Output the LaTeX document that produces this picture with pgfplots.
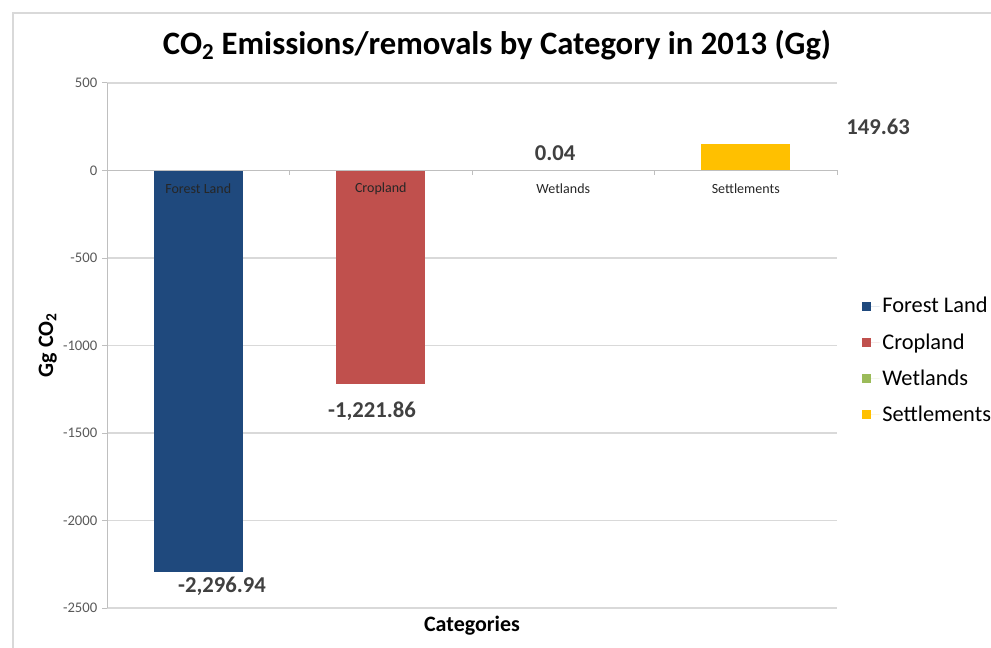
\documentclass[border=0pt]{standalone}
\usepackage{pgfplots}
\pgfplotsset{compat=1.18}
\usepackage{fontspec}
\setmainfont{Carlito}
\definecolor{cForest}{HTML}{1F497D}
\definecolor{cCrop}{HTML}{C0504D}
\definecolor{cWet}{HTML}{9BBB59}
\definecolor{cSett}{HTML}{FFC000}
\definecolor{cGrid}{HTML}{D9D9D9}
\definecolor{cAxis}{HTML}{BFBFBF}
\definecolor{cTick}{HTML}{595959}
\definecolor{cLab}{HTML}{404040}
\begin{document}
\begin{tikzpicture}
\useasboundingbox (0pt,0pt) rectangle (743.25pt,485.25pt);
\draw[color=cGrid, line width=1pt] (9.75pt,-4pt) -- (9.75pt,475.5pt) -- (750pt,475.5pt);
\node[font=\fontsize{24.5}{28}\selectfont\bfseries] at (372.75pt,451.5pt) {CO\textsubscript{2} Emissions/removals by Category in 2013 (Gg)};
\node[font=\fontsize{16.5}{19}\selectfont\bfseries, rotate=90] at (35.75pt,226.5pt) {Gg CO\textsubscript{2}};
\node[font=\fontsize{16.5}{19}\selectfont\bfseries] at (354pt,15.75pt) {Categories};
\begin{axis}[
  at={(80.25pt,29.25pt)}, anchor=south west,
  scale only axis, width=547.5pt, height=393.75pt,
  xmin=-0.5, xmax=3.5, ymin=-2500, ymax=500,
  ytick={-2500,-2000,...,500},
  xtick=\empty,
  axis y line*=left, axis x line=none,
  y axis line style={color=cAxis, line width=0.75pt},
  ymajorgrids, grid style={color=cGrid, line width=0.9pt},
  tick align=outside, major tick length=3.75pt,
  tick style={color=cAxis, line width=0.75pt},
  yticklabel style={font=\fontsize{11}{13}\selectfont, color=cTick},
  /pgf/number format/assume math mode=true,
  /pgf/number format/1000 sep={},
  ybar, bar width=66.75pt, bar shift=0pt,
  clip=false,
  legend style={at={(rel axis cs:1.034,0.4714)}, anchor=west, draw=none, fill=none,
    font=\fontsize{16.8}{19}\selectfont, row sep=10pt, inner sep=0pt},
  legend cell align=left,
  legend image code/.code={\fill[#1] (0pt,-3.4pt) rectangle (6.8pt,3.4pt); \path (0pt,0pt) -- (13.2pt,0pt);},
]
\addplot[fill=cForest, draw=none] coordinates {(0,-2296.94)};
\addplot[fill=cCrop, draw=none] coordinates {(1,-1221.86)};
\addplot[fill=cWet, draw=none] coordinates {(2,0.04)};
\addplot[fill=cSett, draw=none] coordinates {(3,149.63)};
\legend{Forest Land, Cropland, Wetlands, Settlements}
\draw[color=cAxis, line width=0.9pt] (axis cs:-0.5,0) -- (axis cs:3.5,0);
\pgfplotsinvokeforeach{0.5,1.5,2.5,3.5}{\draw[color=cAxis, line width=0.75pt] (axis cs:#1,0) -- ([yshift=-3.75pt]axis cs:#1,0);}
\node[font=\fontsize{10.5}{12}\selectfont, color=black!85] at (axis cs:0,-106) {Forest Land};
\node[font=\fontsize{10.5}{12}\selectfont, color=black!85] at (axis cs:1,-106) {Cropland};
\node[font=\fontsize{10.5}{12}\selectfont, color=black!85] at (axis cs:2,-106) {Wetlands};
\node[font=\fontsize{10.5}{12}\selectfont, color=black!85] at (axis cs:3,-106) {Settlements};
\node[font=\fontsize{17}{20}\selectfont\bfseries, color=cLab] at (axis cs:0.13,-2374) {-2,296.94};
\node[font=\fontsize{17}{20}\selectfont\bfseries, color=cLab] at (axis cs:0.952,-1374) {-1,221.86};
\node[font=\fontsize{17}{20}\selectfont\bfseries, color=cLab] at (axis cs:1.955,100) {0.04};
\node[font=\fontsize{17}{20}\selectfont\bfseries, color=cLab] at (axis cs:3.725,249) {149.63};
\end{axis}
\end{tikzpicture}
\end{document}
